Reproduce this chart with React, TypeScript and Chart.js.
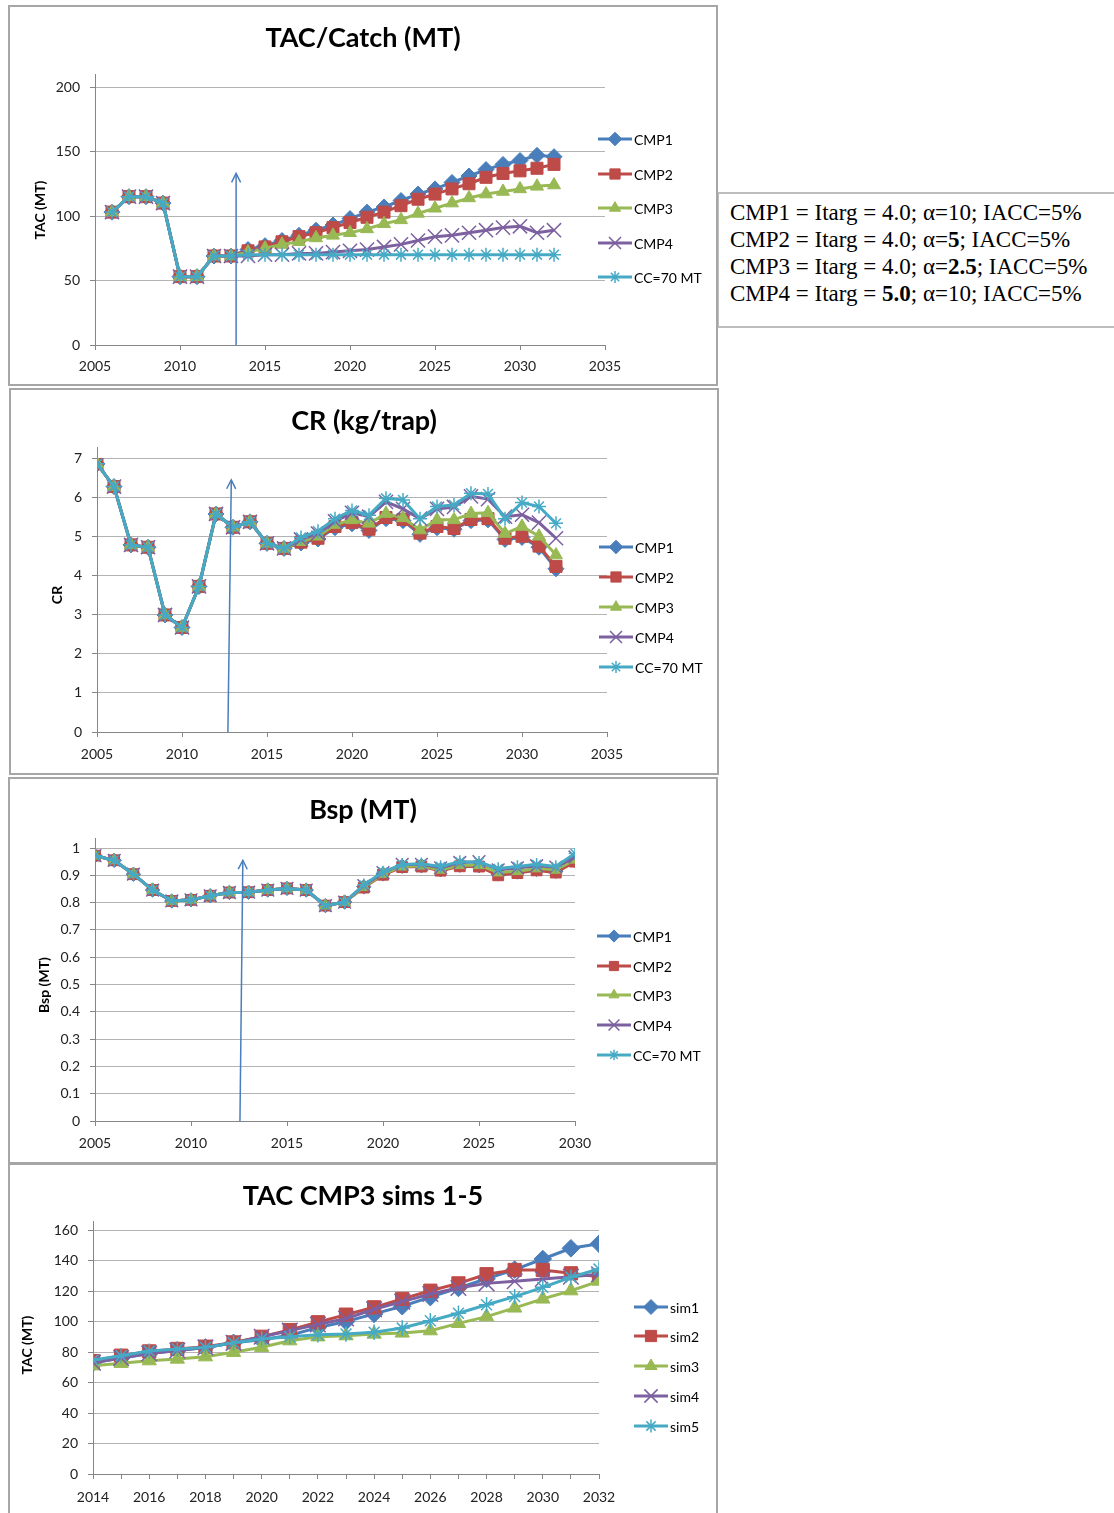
import React, { useEffect, useRef } from 'react';
import { Chart, registerables } from 'chart.js';
import { drawPoint } from 'chart.js/helpers';

Chart.register(...registerables);

// ---------- shared series styling ----------
const seriesColors = ['#4A7EBB', '#BE4B48', '#98B954', '#7D60A0', '#46AAC5'];
const seriesStyles = ['rectRot', 'rect', 'triangle', 'crossRot', 'star'];
const seriesRadii = [8, 8.5, 7.5, 10, 7];

// ---------- chart 1: TAC/Catch (MT) ----------
const tacYears = [2006, 2007, 2008, 2009, 2010, 2011, 2012, 2013, 2014, 2015, 2016, 2017, 2018, 2019, 2020, 2021, 2022, 2023, 2024, 2025, 2026, 2027, 2028, 2029, 2030, 2031, 2032];
const tacLabels = ['CMP1', 'CMP2', 'CMP3', 'CMP4', 'CC=70 MT'];
const tacCMP1 = [103, 115, 115, 110, 53, 53, 69, 69, 74, 77, 81, 85, 89, 93, 98, 103, 107, 112, 117, 121, 126, 131, 136, 140, 143, 147, 146];
const tacCMP2 = [103, 115, 115, 110, 53, 53, 69, 69, 73, 76, 80, 84, 87, 91, 95, 99, 103, 108, 113, 117, 121, 125, 130, 133, 135, 137, 140];
const tacCMP3 = [103, 115, 115, 110, 53, 53, 69, 69, 72, 75, 78, 80, 83, 85, 87, 90, 94, 97, 102, 106, 110, 114, 117, 119, 121, 123, 124];
const tacCMP4 = [103, 115, 115, 110, 53, 53, 69, 69, 69, 70, 70, 71, 71, 72, 73, 74, 76, 78, 81, 84, 85, 87, 89, 91, 92, 87, 89];
const tacCC70 = [103, 115, 115, 110, 53, 53, 69, 69, 70, 70, 70, 70, 70, 70, 70, 70, 70, 70, 70, 70, 70, 70, 70, 70, 70, 70, 70];
const tacArrow = { x0: 2013.3, x1: 2013.3, y1: 133 };

// ---------- chart 2: CR (kg/trap) ----------
const crYears = [2005, 2006, 2007, 2008, 2009, 2010, 2011, 2012, 2013, 2014, 2015, 2016, 2017, 2018, 2019, 2020, 2021, 2022, 2023, 2024, 2025, 2026, 2027, 2028, 2029, 2030, 2031, 2032];
const crCMP1 = [6.85, 6.27, 4.78, 4.72, 2.99, 2.67, 3.72, 5.57, 5.23, 5.37, 4.82, 4.69, 4.83, 4.93, 5.22, 5.32, 5.15, 5.45, 5.4, 5.05, 5.22, 5.18, 5.4, 5.42, 4.92, 4.97, 4.72, 4.17];
const crCMP2 = [6.85, 6.27, 4.78, 4.72, 2.99, 2.67, 3.72, 5.57, 5.23, 5.37, 4.82, 4.69, 4.85, 4.95, 5.25, 5.35, 5.18, 5.48, 5.43, 5.08, 5.25, 5.2, 5.43, 5.45, 4.95, 5.0, 4.75, 4.23];
const crCMP3 = [6.85, 6.27, 4.78, 4.72, 2.99, 2.67, 3.72, 5.57, 5.23, 5.37, 4.82, 4.69, 4.86, 5.0, 5.3, 5.42, 5.33, 5.58, 5.47, 5.16, 5.42, 5.42, 5.58, 5.6, 5.07, 5.25, 5.0, 4.52];
const crCMP4 = [6.85, 6.27, 4.78, 4.72, 2.99, 2.67, 3.72, 5.57, 5.23, 5.37, 4.82, 4.69, 4.92, 5.07, 5.38, 5.6, 5.5, 5.88, 5.7, 5.45, 5.7, 5.75, 6.02, 5.95, 5.5, 5.55, 5.35, 4.95];
const crCC70 = [6.85, 6.27, 4.78, 4.72, 2.99, 2.67, 3.72, 5.57, 5.23, 5.37, 4.82, 4.69, 4.97, 5.13, 5.45, 5.66, 5.54, 5.97, 5.93, 5.45, 5.76, 5.8, 6.1, 6.08, 5.45, 5.86, 5.76, 5.33];
const crArrow = { x0: 2012.7, x1: 2012.9, y1: 6.44 };

// ---------- chart 3: Bsp (MT) ----------
const bspYears = [2005, 2006, 2007, 2008, 2009, 2010, 2011, 2012, 2013, 2014, 2015, 2016, 2017, 2018, 2019, 2020, 2021, 2022, 2023, 2024, 2025, 2026, 2027, 2028, 2029, 2030];
const bspCMP1 = [0.972, 0.955, 0.904, 0.846, 0.806, 0.81, 0.825, 0.837, 0.838, 0.846, 0.852, 0.846, 0.789, 0.802, 0.858, 0.905, 0.933, 0.935, 0.92, 0.937, 0.935, 0.905, 0.912, 0.922, 0.915, 0.955];
const bspCMP2 = [0.972, 0.955, 0.904, 0.846, 0.806, 0.81, 0.825, 0.837, 0.838, 0.846, 0.852, 0.846, 0.789, 0.802, 0.855, 0.902, 0.93, 0.932, 0.917, 0.933, 0.932, 0.9, 0.908, 0.918, 0.91, 0.95];
const bspCMP3 = [0.972, 0.955, 0.904, 0.846, 0.806, 0.81, 0.825, 0.837, 0.838, 0.846, 0.852, 0.846, 0.789, 0.802, 0.857, 0.905, 0.932, 0.935, 0.92, 0.937, 0.937, 0.91, 0.915, 0.925, 0.92, 0.957];
const bspCMP4 = [0.972, 0.955, 0.904, 0.846, 0.806, 0.81, 0.825, 0.837, 0.838, 0.846, 0.852, 0.846, 0.789, 0.802, 0.862, 0.91, 0.94, 0.94, 0.927, 0.947, 0.95, 0.92, 0.927, 0.935, 0.93, 0.967];
const bspCC70 = [0.972, 0.955, 0.904, 0.846, 0.806, 0.81, 0.825, 0.837, 0.838, 0.846, 0.852, 0.846, 0.789, 0.802, 0.865, 0.912, 0.94, 0.942, 0.932, 0.95, 0.948, 0.925, 0.932, 0.94, 0.932, 0.98];
const bspArrow = { x0: 2012.55, x1: 2012.7, y1: 0.955 };

// ---------- chart 4: TAC CMP3 sims 1-5 ----------
const simYears = [2014, 2015, 2016, 2017, 2018, 2019, 2020, 2021, 2022, 2023, 2024, 2025, 2026, 2027, 2028, 2029, 2030, 2031, 2032];
const simLabels = ['sim1', 'sim2', 'sim3', 'sim4', 'sim5'];
const sim1 = [73, 76, 79, 81, 83, 86, 88, 91, 96, 100, 105, 110, 116, 122, 128, 134, 141, 148, 151];
const sim2 = [74, 77.6, 80.4, 82, 83.5, 86.3, 90, 94.4, 99.5, 104.5, 109.3, 114.8, 120.2, 125, 131, 133.8, 133.8, 131.6, 129.4];
const sim3 = [71, 72.6, 74.3, 75.4, 76.9, 79.8, 83.1, 87.4, 90, 90.7, 91.8, 92.5, 94, 98.8, 103.2, 108.9, 114.8, 120.2, 126.5];
const sim4 = [73, 76, 79, 81, 83, 86, 90, 94, 98, 102, 108, 113, 118, 122, 125, 126.4, 127.9, 129.4, 131];
const sim5 = [74.8, 77.6, 80.6, 82, 83, 86, 88.5, 90, 91.3, 91.8, 93, 95.7, 100.5, 105.4, 111, 116.3, 122.4, 129, 134.4];

const FONT = 'Lato, "Open Sans", sans-serif';

type Arrow = { x0: number; x1: number; y1: number };
type Decor = {
  title: string;
  titleY: number;
  yTitle: string;
  yTitleX: number;
  yTitleY: number;
  legendX: number;
  legendYs: number[];
  axisExtend: number;
  arrow?: Arrow;
};

function decorPlugin(p: Decor) {
  return {
    id: 'decor',
    afterDraw(chart: any) {
      const ctx: CanvasRenderingContext2D = chart.ctx;
      const area = chart.chartArea;
      ctx.save();
      // y axis line continues a little above the top gridline
      ctx.strokeStyle = '#868686';
      ctx.lineWidth = 1;
      ctx.beginPath();
      ctx.moveTo(Math.round(area.left) + 0.5, area.top);
      ctx.lineTo(Math.round(area.left) + 0.5, area.top - p.axisExtend);
      ctx.stroke();
      // title
      ctx.fillStyle = '#000';
      ctx.font = `bold 27px ${FONT}`;
      ctx.textAlign = 'center';
      ctx.textBaseline = 'middle';
      ctx.fillText(p.title, chart.width / 2, p.titleY);
      // y axis title
      ctx.save();
      ctx.translate(p.yTitleX, p.yTitleY);
      ctx.rotate(-Math.PI / 2);
      ctx.font = `bold 14px ${FONT}`;
      ctx.fillText(p.yTitle, 0, 0);
      ctx.restore();
      // legend
      chart.data.datasets.forEach((ds: any, i: number) => {
        const y = p.legendYs[i];
        ctx.strokeStyle = ds.borderColor;
        ctx.lineWidth = 3;
        ctx.beginPath();
        ctx.moveTo(p.legendX, y);
        ctx.lineTo(p.legendX + 34, y);
        ctx.stroke();
        ctx.fillStyle = ds.pointBackgroundColor;
        ctx.strokeStyle = ds.pointBorderColor;
        ctx.lineWidth = ds.pointBorderWidth;
        drawPoint(ctx, { pointStyle: ds.pointStyle, radius: ds.pointRadius * 0.85, borderWidth: ds.pointBorderWidth, rotation: 0 } as any, p.legendX + 17, y);
        ctx.fillStyle = '#000';
        ctx.font = `14px ${FONT}`;
        ctx.textAlign = 'left';
        ctx.textBaseline = 'middle';
        ctx.fillText(ds.label, p.legendX + 36, y + 1);
      });
      // arrow
      if (p.arrow) {
        const xs = chart.scales.x;
        const ys = chart.scales.y;
        const bx = xs.getPixelForValue(p.arrow.x0);
        const by = ys.getPixelForValue(0);
        const tx = xs.getPixelForValue(p.arrow.x1);
        const ty = ys.getPixelForValue(p.arrow.y1);
        const ang = Math.atan2(ty - by, tx - bx);
        ctx.strokeStyle = '#4A7EBB';
        ctx.lineWidth = 1.5;
        ctx.beginPath();
        ctx.moveTo(bx, by);
        ctx.lineTo(tx, ty);
        ctx.stroke();
        const len = 10;
        const spread = 0.47;
        ctx.beginPath();
        ctx.moveTo(tx - len * Math.cos(ang - spread), ty - len * Math.sin(ang - spread));
        ctx.lineTo(tx, ty);
        ctx.lineTo(tx - len * Math.cos(ang + spread), ty - len * Math.sin(ang + spread));
        ctx.stroke();
      }
      ctx.restore();
    },
  };
}

function makeDatasets(labels: string[], years: number[], series: number[][], scale: number) {
  return series.map((vals, i) => ({
    label: labels[i],
    data: years.map((yr, j) => ({ x: yr, y: vals[j] })),
    borderColor: seriesColors[i],
    backgroundColor: seriesColors[i],
    pointBackgroundColor: seriesColors[i],
    pointBorderColor: seriesColors[i],
    pointStyle: seriesStyles[i],
    pointRadius: seriesRadii[i] * scale,
    pointBorderWidth: i >= 3 ? 1.5 : 1,
    borderWidth: 3,
    tension: 0,
    order: 10 - i,
  }));
}

type Axes = {
  xMin: number; xMax: number; xStep: number; xLabel: (v: number) => string;
  yMin: number; yMax: number; yStep: number; yLabel: (v: number) => string;
  pad: { left: number; right: number; top: number; bottom: number };
  yW: number; xH: number; xPad: number;
};

function makeConfig(datasets: any[], ax: Axes, decor: Decor): any {
  return {
    type: 'line',
    data: { datasets },
    options: {
      responsive: false,
      animation: false,
      devicePixelRatio: 1,
      layout: { padding: ax.pad },
      plugins: { legend: { display: false }, title: { display: false }, tooltip: { enabled: false } },
      scales: {
        x: {
          type: 'linear',
          min: ax.xMin,
          max: ax.xMax,
          afterFit: (s: any) => { s.height = ax.xH; },
          afterBuildTicks: (s: any) => {
            const t = [];
            for (let v = ax.xMin; v <= ax.xMax + 1e-9; v += ax.xStep) t.push({ value: v });
            s.ticks = t;
          },
          grid: { drawOnChartArea: false, drawTicks: true, tickLength: 5, color: '#868686', lineWidth: 1 },
          border: { color: '#868686', width: 1 },
          ticks: {
            autoSkip: false,
            maxRotation: 0,
            padding: ax.xPad,
            color: '#222',
            font: { family: FONT, size: 14 },
            callback: (v: any) => ax.xLabel(Number(v)),
          },
        },
        y: {
          type: 'linear',
          min: ax.yMin,
          max: ax.yMax,
          afterFit: (s: any) => { s.width = ax.yW; },
          afterBuildTicks: (s: any) => {
            const t = [];
            for (let v = ax.yMin; v <= ax.yMax + 1e-9; v += ax.yStep) t.push({ value: Math.round(v * 1000) / 1000 });
            s.ticks = t;
          },
          grid: { drawTicks: true, tickLength: 5, color: '#b3b3b3', tickColor: '#868686', lineWidth: 1 },
          border: { color: '#868686', width: 1 },
          ticks: {
            padding: 10,
            color: '#222',
            font: { family: FONT, size: 14 },
            callback: (v: any) => ax.yLabel(Number(v)),
          },
        },
      },
    },
    plugins: [decorPlugin(decor)],
  };
}

const yearLabel = (v: number) => String(Math.round(v));

function buildTac() {
  const ds = makeDatasets(tacLabels, tacYears, [tacCMP1, tacCMP2, tacCMP3, tacCMP4, tacCC70], 1);
  return makeConfig(ds, {
    xMin: 2005, xMax: 2035, xStep: 5, xLabel: yearLabel,
    yMin: 0, yMax: 200, yStep: 50, yLabel: (v) => String(v),
    pad: { left: 25, right: 111, top: 80, bottom: 9 }, yW: 60, xH: 30, xPad: 8,
  }, {
    title: 'TAC/Catch (MT)', titleY: 31, yTitle: 'TAC (MT)', yTitleX: 30, yTitleY: 203,
    legendX: 588, legendYs: [132, 167, 201, 236, 270], axisExtend: 13, arrow: tacArrow,
  });
}

function buildCr() {
  const ds = makeDatasets(tacLabels, crYears, [crCMP1, crCMP2, crCMP3, crCMP4, crCC70], 1);
  return makeConfig(ds, {
    xMin: 2005, xMax: 2035, xStep: 5, xLabel: yearLabel,
    yMin: 0, yMax: 7, yStep: 1, yLabel: (v) => String(v),
    pad: { left: 26, right: 110, top: 68, bottom: 11 }, yW: 60, xH: 30, xPad: 9,
  }, {
    title: 'CR (kg/trap)', titleY: 31, yTitle: 'CR', yTitleX: 46, yTitleY: 205,
    legendX: 588, legendYs: [157, 187, 217, 247, 277], axisExtend: 11, arrow: crArrow,
  });
}

function buildBsp() {
  const ds = makeDatasets(tacLabels, bspYears, [bspCMP1, bspCMP2, bspCMP3, bspCMP4, bspCC70], 0.9);
  return makeConfig(ds, {
    xMin: 2005, xMax: 2030, xStep: 5, xLabel: yearLabel,
    yMin: 0, yMax: 1, yStep: 0.1, yLabel: (v) => String(Number(v.toFixed(1))),
    pad: { left: 25, right: 141, top: 69, bottom: 11 }, yW: 60, xH: 30, xPad: 9,
  }, {
    title: 'Bsp (MT)', titleY: 31, yTitle: 'Bsp (MT)', yTitleX: 34, yTitleY: 206,
    legendX: 587, legendYs: [157, 187, 216, 246, 276], axisExtend: 10, arrow: bspArrow,
  });
}

function buildSims() {
  const ds = makeDatasets(simLabels, simYears, [sim1, sim2, sim3, sim4, sim5], 1.1);
  return makeConfig(ds, {
    xMin: 2014, xMax: 2032, xStep: 1, xLabel: (v) => (Math.round(v) % 2 === 0 ? String(Math.round(v)) : ''),
    yMin: 0, yMax: 160, yStep: 20, yLabel: (v) => String(v),
    pad: { left: 23, right: 117, top: 65, bottom: 9 }, yW: 60, xH: 30, xPad: 10,
  }, {
    title: 'TAC CMP3 sims 1-5', titleY: 31, yTitle: 'TAC (MT)', yTitleX: 17, yTitleY: 180,
    legendX: 624, legendYs: [142, 171, 201, 231, 261], axisExtend: 9,
  });
}

function ChartPanel(props: { left: number; top: number; width: number; height: number; noBottom?: boolean; build: () => any }) {
  const ref = useRef<HTMLCanvasElement>(null);
  useEffect(() => {
    const chart = new Chart(ref.current as HTMLCanvasElement, props.build());
    return () => chart.destroy();
  }, []);
  const innerW = props.width - 4;
  const innerH = props.height - (props.noBottom ? 2 : 4);
  return (
    <div
      style={{
        position: 'absolute',
        left: props.left,
        top: props.top,
        width: props.width,
        height: props.height,
        boxSizing: 'border-box',
        border: '2px solid #a6a6a6',
        borderBottom: props.noBottom ? 'none' : '2px solid #a6a6a6',
        background: '#fff',
      }}
    >
      <canvas ref={ref} width={innerW} height={innerH} style={{ display: 'block', width: innerW, height: innerH }} />
    </div>
  );
}

const boxLines: React.ReactNode[] = [
  <>CMP1 = Itarg = 4.0; α=10; IACC=5%</>,
  <>CMP2 = Itarg = 4.0; α=<b>5</b>; IACC=5%</>,
  <>CMP3 = Itarg = 4.0; α=<b>2.5</b>; IACC=5%</>,
  <>CMP4 = Itarg = <b>5.0</b>; α=10; IACC=5%</>,
];

export default function App() {
  return (
    <div style={{ position: 'absolute', left: 0, top: 0, width: 1114, height: 1513, overflow: 'hidden', background: '#fff' }}>
      <ChartPanel left={8} top={5} width={710} height={381} build={buildTac} />
      <ChartPanel left={9} top={388} width={710} height={387} build={buildCr} />
      <ChartPanel left={8} top={777} width={710} height={387} build={buildBsp} />
      <ChartPanel left={8} top={1163} width={710} height={350} noBottom build={buildSims} />
      <div
        style={{
          position: 'absolute',
          left: 718,
          top: 192,
          width: 396,
          height: 136,
          boxSizing: 'border-box',
          borderTop: '2px solid #bdbdbd',
          borderBottom: '2px solid #bdbdbd',
          borderLeft: '1px solid #bdbdbd',
          padding: '5px 0 0 11px',
          fontFamily: '"Liberation Serif", "Times New Roman", serif',
          fontSize: 23,
          lineHeight: '27px',
          color: '#000',
          whiteSpace: 'nowrap',
          background: '#fff',
        }}
      >
        {boxLines.map((l, i) => (
          <div key={i}>{l}</div>
        ))}
      </div>
    </div>
  );
}
